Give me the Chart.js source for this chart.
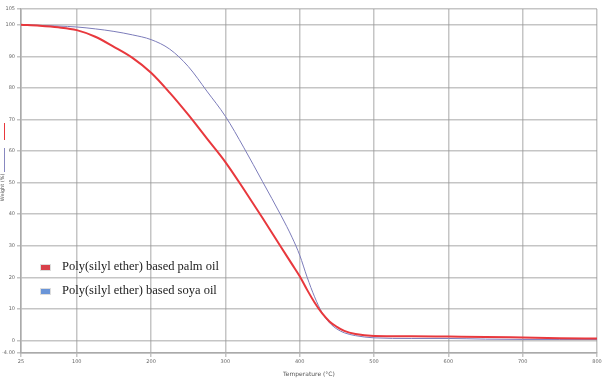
<!DOCTYPE html>
<html>
<head>
<meta charset="utf-8">
<script src="https://cdn.jsdelivr.net/npm/chart.js@4.4.1/dist/chart.umd.min.js"></script>
<style>
  html, body { margin: 0; padding: 0; background: #fff; }
  #wrap { position: relative; width: 605px; height: 378px; }
  #legend { position: absolute; left: 40px; top: 257px; font-family: "Liberation Serif", serif; font-size: 12.5px; color: #222; }
  #legend div { height: 24px; line-height: 18px; white-space: nowrap; }
  #legend span.box { display: inline-block; width: 9px; height: 5px; margin-right: 11px; vertical-align: middle; border: 1px solid #ddd; }
  .ymark { position: absolute; left: 4px; width: 1px; }
</style>
</head>
<body>
<div id="wrap">
  <canvas id="tga" width="605" height="378"></canvas>
  <div id="legend"></div>
  <div class="ymark" style="top:123px;height:17px;background:#e8383d;"></div>
  <div class="ymark" style="top:148px;height:24px;background:#8888c0;"></div>
</div>
<script>
  'use strict';

  // temperature (°C)
  var temps = [25, 50, 75, 100, 125, 150, 175, 200, 225, 250, 275, 300, 325, 350, 375, 390,
               400, 410, 420, 430, 440, 450, 460, 475, 500, 550, 600, 650, 700, 750, 800];
  // weight (%)
  var palmOil = [100, 99.7, 99.2, 98.3, 96.2, 93, 89.5, 84.8, 78.5, 71.5, 64, 56.5, 47.8, 38.8, 29.5, 24,
                 20.3, 16, 12, 8.6, 6, 4.3, 3.0, 2.0, 1.4, 1.3, 1.2, 1.1, 0.9, 0.7, 0.6];
  var soyaOil = [100, 99.8, 99.6, 99.3, 98.7, 97.9, 96.8, 95.3, 92.3, 86.8, 79, 71, 61, 50.3, 39.5, 32.5,
                 27, 20, 13.8, 8.8, 5.6, 3.6, 2.4, 1.5, 0.8, 0.6, 0.6, 0.4, 0.3, 0.3, 0.3];
  var seriesNames = ['Poly(silyl ether) based palm oil', 'Poly(silyl ether) based soya oil'];
  var xTicks = [25, 100, 200, 300, 400, 500, 600, 700, 800];
  var yTicks = [-4, 0, 10, 20, 30, 40, 50, 60, 70, 80, 90, 100, 105];

  function toPoints(values) {
    return temps.map(function (t, i) { return { x: t, y: values[i] }; });
  }

  var gridStyle = { color: 'rgba(150,150,150,0.55)', lineWidth: 1.5, tickLength: 4 };
  var tickFont = { family: 'DejaVu Sans', size: 5 };

  new Chart(document.getElementById('tga'), {
    type: 'line',
    data: {
      datasets: [{
        label: seriesNames[0],
        data: toPoints(palmOil),
        borderColor: '#e8383d',
        backgroundColor: '#e8383d',
        borderWidth: 2,
        pointRadius: 0,
        cubicInterpolationMode: 'monotone'
      }, {
        label: seriesNames[1],
        data: toPoints(soyaOil),
        borderColor: '#7c7cba',
        backgroundColor: '#6a95d8',
        borderWidth: 1,
        pointRadius: 0,
        cubicInterpolationMode: 'monotone'
      }]
    },
    options: {
      responsive: false,
      animation: false,
      layout: { padding: { top: 9, right: 8, left: 0, bottom: 0 } },
      plugins: { legend: { display: false }, tooltip: { enabled: false } },
      scales: {
        x: {
          type: 'linear',
          min: 25,
          max: 800,
          afterBuildTicks: function (scale) {
            scale.ticks = xTicks.map(function (v) { return { value: v }; });
          },
          ticks: { font: tickFont, color: '#666', maxRotation: 0, padding: 2 },
          grid: gridStyle,
          border: { color: '#aaa', width: 1.5 },
          title: { display: true, text: 'Temperature (°C)', font: { family: 'DejaVu Sans', size: 6 }, color: '#555', padding: 0 },
          afterFit: function (scale) { scale.height = 25; }
        },
        y: {
          min: -4,
          max: 105,
          afterBuildTicks: function (scale) {
            scale.ticks = yTicks.map(function (v) { return { value: v }; });
          },
          ticks: {
            font: tickFont, color: '#666', padding: 2,
            callback: function (v) { return v === -4 ? '-4.00' : v; }
          },
          grid: gridStyle,
          border: { color: '#aaa', width: 1.5 },
          // trailing spaces push the rotated title a little lower, under the two marks
          title: { display: true, text: 'Weight (%)\u00a0\u00a0\u00a0\u00a0\u00a0\u00a0\u00a0\u00a0', font: { family: 'DejaVu Sans', size: 5 }, color: '#555', padding: 0 },
          afterFit: function (scale) { scale.width = 21; }
        }
      }
    }
  });

  var legendColors = ['#d8404a', '#6a95d8'];
  var legendHtml = '';
  seriesNames.forEach(function (name, i) {
    legendHtml += '<div><span class="box" style="background:' + legendColors[i] + '"></span>' + name + '</div>';
  });
  document.getElementById('legend').innerHTML = legendHtml;
</script>
</body>
</html>
